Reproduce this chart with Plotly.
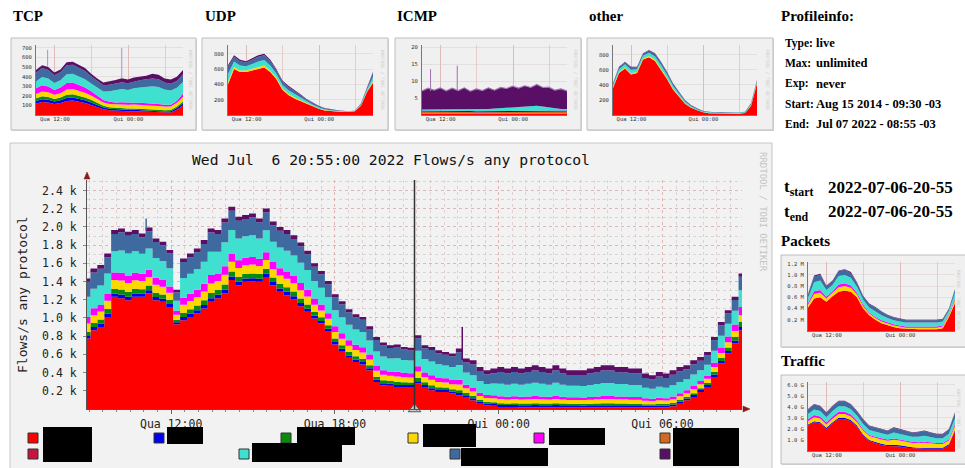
import plotly.graph_objects as go
import pandas as pd

W, H = 965, 468
def px(x): return x / W
def py(y): return 1 - y / H

START = "2022-07-06 08:55"
END = "2022-07-07 08:55"
CURSOR = "2022-07-06 20:55"

COLORS = dict(red="#ff0000", crimson="#c8143c", blue="#0000ee", green="#0a8a0a",
              yellow="#ffd700", magenta="#ff00ff", cyan="#40e0d0", steelblue="#3e6aa0",
              orange="#d2691e", purple="#5a0f66")

# ---------------- main chart data (flows/s, 96 samples) ----------------
main_red = [774,866,902,1012,1232,1218,1196,1232,1232,1269,
            1196,1177,1122,930,976,1012,1049,1104,1177,1218,
            1269,1416,1361,1397,1400,1397,1450,1360,1287,1251,
            1205,1130,1068,994,939,856,710,636,563,517,
            490,425,297,261,255,242,242,242,279,242,
            206,187,187,169,151,132,96,59,41,35,
            22,22,22,20,20,20,20,20,20,20,
            20,19,18,18,18,18,18,18,18,18,
            18,18,18,18,20,30,59,96,132,187,
            242,352,499,609,719,866]
main_blue = [36,35,34,36,38,40,38,37,35,36,34,33,31,
             22,
             34,35,36,38,40,37,41,40,38,37,
             37,35,38,35,36,36,35,35,34,30,29,27,
             27,27,26,26,26,24,24,23,22,23,22,21,
             26,22,23,22,21,21,24,20,21,20,20,21,
             22,21,22,22,22,23,22,22,23,22,
             21,21,21,22,23,24,24,23,23,22,
             22,19,18,20,19,20,21,20,22,22,
             23,27,28,29,31,36]
main_green = [37,45,48,50,52,55,54,52,50,52,48,47,44,
              28,
              48,50,51,53,57,53,58,56,54,52,
              53,50,53,50,51,51,50,50,47,42,40,38,
              38,38,37,36,36,33,34,32,30,32,30,29,
              37,30,31,30,28,28,32,25,25,20,18,18,
              19,18,19,18,19,20,19,18,20,18,
              17,17,17,18,19,20,20,19,19,18,
              18,16,15,17,16,17,18,18,20,20,
              22,30,34,38,44,55]
main_yellow = [92,85,88,90,95,98,96,94,90,92,88,85,80,
               55,
               88,90,93,97,105,97,107,105,96,94,
               97,90,97,91,92,93,92,91,87,79,75,71,
               72,71,69,68,68,63,64,60,57,60,56,55,
               70,58,60,58,55,55,62,50,50,45,42,44,
               46,44,46,44,46,48,46,44,48,44,
               42,42,42,44,46,48,48,46,46,44,
               44,38,36,40,38,41,42,40,44,42,
               44,52,55,58,63,74]
main_magenta = [73,75,72,80,82,85,84,82,78,82,76,74,70,
                45,
                76,78,80,85,92,84,94,92,84,82,
                84,78,85,78,80,80,79,78,75,68,64,61,
                61,61,59,58,58,53,54,51,49,51,48,47,
                58,48,50,48,46,46,52,40,40,35,32,33,
                31,30,31,30,31,33,31,30,33,30,
                29,29,29,30,31,32,32,31,31,30,
                30,26,25,28,26,30,32,32,36,36,
                38,48,55,62,72,91]
main_cyan = [220,215,212,220,235,245,240,236,222,232,216,210,200,
             110,
             216,222,228,240,258,239,264,258,240,236,
             239,222,242,224,228,228,226,224,215,194,184,176,
             176,176,171,168,167,155,158,151,143,150,141,138,
             171,148,152,148,142,142,162,135,140,128,122,130,
             138,132,138,132,139,145,139,132,145,132,
             126,127,127,133,139,145,145,139,139,133,
             133,116,110,121,115,124,126,120,124,118,
             116,130,135,140,150,184]
main_steelblue = [165,180,185,180,190,200,196,190,180,190,176,172,162,
                  90,
                  176,180,185,196,210,195,215,210,196,190,
                  196,180,196,180,184,185,181,180,174,157,149,142,
                  142,142,137,135,135,126,128,122,115,122,114,112,
                  137,120,126,120,116,116,140,110,118,110,106,113,
                  128,122,128,123,129,134,129,123,134,123,
                  118,118,119,124,129,135,135,129,129,124,
                  124,108,103,113,107,115,117,110,114,106,
                  102,115,115,115,118,146]
main_purple = [37,43,40,41,42,43,43,43,42,42,40,39,37,
               30,
               40,42,42,43,45,43,46,45,43,43,
               43,42,43,42,42,42,42,42,40,36,35,34,
               34,34,33,32,32,31,31,30,29,30,29,28,
               33,33,34,33,32,32,41,42,46,45,45,50,
               56,55,56,55,56,58,56,55,58,55,
               53,53,53,55,57,59,59,57,57,55,
               55,48,46,50,48,49,47,45,44,41,
               40,38,36,35,35,37]

main_spike_times = ["2022-07-06 11:05", "2022-07-06 22:40"]
main_spike_low = [1966, 536]
main_spike_high = [2094, 902]
main_spike_colors = ["steelblue", "purple"]

main_tick_times = ["2022-07-06 12:00", "2022-07-06 18:00", "2022-07-07 00:00", "2022-07-07 06:00"]
main_tick_labels = ["Qua 12:00", "Qua 18:00", "Qui 00:00", "Qui 06:00"]
main_y_ticks = [200, 400, 600, 800, 1000, 1200, 1400, 1600, 1800, 2000, 2200, 2400]
main_y_labels = ["0.2 k", "0.4 k", "0.6 k", "0.8 k", "1.0 k", "1.2 k", "1.4 k", "1.6 k",
                 "1.8 k", "2.0 k", "2.2 k", "2.4 k"]

# ---------------- thumbnails (hourly, 25 samples) ----------------
tcp_red = [120,135,130,115,125,145,150,140,125,105,80,60,50,45,45,40,40,38,35,30,25,22,25,55,100]
tcp_blue = [25,28,28,25,28,32,32,30,28,25,22,18,15,15,15,15,15,15,15,15,15,14,14,18,22]
tcp_green = [30,32,30,28,30,35,35,33,30,28,22,18,15,15,14,14,14,14,14,14,14,14,14,16,20]
tcp_yellow = [45,50,48,42,45,55,55,50,48,45,40,35,35,35,38,38,40,40,40,42,40,38,36,38,45]
tcp_magenta = [60,65,62,52,58,68,66,60,55,45,35,25,22,20,20,20,20,20,20,20,20,18,18,22,38]
tcp_cyan = [70,85,82,72,76,90,92,90,88,80,85,90,110,125,138,133,150,160,170,180,178,160,148,135,120]
tcp_steelblue = [90,95,90,80,85,95,95,92,86,75,70,65,68,70,72,72,72,75,78,80,80,72,70,70,80]
tcp_purple = [30,30,30,28,28,30,30,30,30,27,26,29,35,40,42,38,39,38,38,49,48,42,45,46,45]
tcp_spike_times = ["2022-07-06 10:49", "2022-07-06 22:55"]
tcp_spike_low = [500, 380]
tcp_spike_high = [680, 700]

udp_red = [400,600,560,560,580,600,620,560,470,330,260,215,180,150,110,80,60,50,45,40,40,50,120,300,420]
udp_yellow = [35,25,22,20,22,25,25,22,18,16,16,15,12,8,7,5,4,3,3,2,1,1,4,8,20]
udp_cyan = [100,72,64,56,64,72,72,64,52,48,48,46,36,24,20,16,12,10,8,6,4,4,12,24,56]
udp_steelblue = [90,63,56,49,56,63,63,56,46,42,42,40,32,21,18,14,11,9,7,5,4,4,11,21,49]
udp_purple = [25,20,18,15,18,20,20,18,14,14,14,14,10,7,5,5,3,3,2,2,1,1,3,7,15]

icmp_red = [0.4,0.4,0.5,0.4,0.4,0.5,0.4,0.4,0.4,0.3,0.3,0.3,0.3,0.3,0.3,0.3,0.3,0.3,0.3,0.3,0.3,0.3,0.3,0.4,0.4]
icmp_orange = [0.6,0.6,0.6,0.6,0.6,0.6,0.6,0.6,0.5,0.5,0.5,0.5,0.5,0.5,0.5,0.5,0.5,0.5,0.5,0.5,0.5,0.5,0.5,0.5,0.6]
icmp_blue = [0.3,0.3,0.3,0.3,0.3,0.3,0.3,0.3,0.3,0.3,0.3,0.3,0.3,0.3,0.3,0.3,0.3,0.3,0.3,0.3,0.3,0.3,0.3,0.3,0.3]
icmp_cyan = [0.3,0.3,0.3,0.3,0.3,0.3,0.3,0.4,0.4,0.5,0.6,0.7,0.8,0.9,1.0,1.1,1.2,1.3,1.5,1.6,1.4,1.1,0.8,0.6,0.5]
icmp_purple = [5.5,6.3,5.6,6.4,5.5,6.2,5.6,6.3,5.4,6.1,5.5,6.2,5.4,6.1,5.7,6.3,5.6,6.2,5.5,6.3,5.6,6.0,5.4,5.9,5.3]
icmp_spike_times = ["2022-07-06 10:20", "2022-07-06 14:45"]
icmp_spike_low = [7.0, 7.2]
icmp_spike_high = [13.5, 14.5]

oth_red = [360,560,620,540,560,740,770,720,600,480,340,240,150,95,60,35,22,18,15,15,15,18,25,120,420]
oth_yellow = [9,12,14,16,12,12,15,15,16,15,12,11,8,6,4,3,3,3,3,3,3,3,3,5,7]
oth_cyan = [28,38,41,47,38,37,44,46,50,44,37,32,22,17,13,10,9,9,10,10,10,9,8,16,21]
oth_steelblue = [20,27,29,33,27,26,31,33,36,31,26,23,16,12,9,7,6,6,7,7,7,6,6,12,15]
oth_purple = [5,7,7,8,7,7,7,8,9,8,7,5,4,3,3,3,2,2,2,2,2,2,2,3,4]

pk_red = [0.42,0.58,0.60,0.52,0.62,0.70,0.72,0.70,0.60,0.40,0.28,0.20,0.14,0.10,0.07,0.05,0.04,0.03,0.03,0.03,0.03,0.03,0.05,0.25,0.50]
pk_yellow = [.05,.08,.08,.06,.06,.08,.08,.07,.05,.04,.03,.03,.03,.03,.03,.03,.02,.03,.03,.03,.03,.03,.03,.03,.05]
pk_magenta = [.03,.05,.05,.03,.03,.05,.05,.04,.03,.03,.02,.02,.02,.02,.02,.02,.02,.02,.02,.02,.02,.02,.02,.02,.03]
pk_cyan = [.09,.16,.17,.12,.11,.15,.15,.14,.11,.09,.09,.10,.09,.08,.07,.07,.07,.07,.07,.07,.07,.07,.07,.06,.10]
pk_steelblue = [.06,.10,.10,.07,.07,.09,.09,.08,.07,.06,.06,.06,.06,.05,.05,.04,.04,.04,.04,.04,.04,.04,.04,.03,.06]
pk_purple = [.01,.02,.02,.01,.01,.01,.01,.02,.01,.01,.01,.02,.01,.01,.01,.01,.01,.01,.01,.01,.01,.01,.01,.01,.01]

tr_red = [2.3,2.6,2.5,2.0,2.5,2.9,2.9,2.7,2.2,1.4,0.9,0.7,0.55,0.45,0.45,0.4,0.3,0.25,0.2,0.2,0.2,0.2,0.2,0.5,1.8]
tr_blue = [.10,.10,.10,.10,.10,.10,.10,.10,.10,.10,.10,.10,.10,.10,.12,.12,.12,.10,.10,.12,.12,.10,.10,.10,.12]
tr_yellow = [.30,.35,.33,.30,.32,.35,.35,.32,.30,.35,.35,.38,.40,.38,.45,.42,.40,.38,.40,.42,.38,.33,.33,.35,.35]
tr_magenta = [.18,.20,.20,.18,.20,.20,.20,.18,.15,.12,.10,.10,.10,.10,.12,.10,.10,.10,.10,.10,.10,.10,.10,.12,.18]
tr_cyan = [.47,.50,.49,.47,.50,.50,.50,.48,.45,.48,.45,.45,.45,.44,.53,.50,.48,.45,.50,.53,.47,.42,.42,.48,.52]
tr_steelblue = [.40,.45,.43,.40,.43,.45,.45,.42,.40,.40,.35,.37,.35,.33,.42,.40,.40,.37,.40,.42,.38,.35,.35,.40,.45]
tr_purple = [.05,.05,.05,.05,.05,.05,.05,.05,.05,.05,.05,.05,.05,.05,.06,.06,.05,.05,.05,.06,.05,.05,.05,.05,.08]

thumb_tick_times = ["2022-07-06 12:00", "2022-07-07 00:00"]
thumb_tick_labels = ["Qua 12:00", "Qui 00:00"]

profile_labels = ["Type:", "Max:", "Exp:", "Start:", "End:"]
profile_values = ["live", "unlimited", "never", "Aug 15 2014 - 09:30 -03", "Jul 07 2022 - 08:55 -03"]
t_start_text = "2022-07-06-20-55"
t_end_text = "2022-07-06-20-55"

MONO = "DejaVu Sans Mono"
SERIF = "Liberation Serif, Times New Roman, serif"

main_times = pd.date_range(START, END, periods=len(main_red))
thumb_times = pd.date_range(START, END, periods=len(tcp_red))

fig = go.Figure()

def add_stack(times, series, group, xa, ya, shape, top_line=None):
    for k, (cname, vals) in enumerate(series):
        is_top = top_line is not None and k == len(series) - 1
        fig.add_trace(go.Scatter(x=times, y=vals, stackgroup=group, mode="lines",
                                 line=dict(width=1.2 if is_top else 0, shape=shape,
                                           color=top_line if is_top else COLORS[cname]),
                                 fillcolor=COLORS[cname], xaxis=xa, yaxis=ya,
                                 hoverinfo="skip", showlegend=False))

def add_spikes(times, lows, highs, color, xa, ya, width):
    xs, ys = [], []
    for t, lo, hi in zip(times, lows, highs):
        xs += [t, t, None]
        ys += [lo, hi, None]
    fig.add_trace(go.Scatter(x=xs, y=ys, mode="lines", line=dict(color=color, width=width),
                             xaxis=xa, yaxis=ya, hoverinfo="skip", showlegend=False))

add_stack(main_times, [("red", main_red), ("blue", main_blue), ("green", main_green),
                       ("yellow", main_yellow), ("magenta", main_magenta), ("cyan", main_cyan),
                       ("steelblue", main_steelblue), ("purple", main_purple)],
          "main", "x", "y", "hvh")
for t, lo, hi, c in zip(main_spike_times, main_spike_low, main_spike_high, main_spike_colors):
    add_spikes([t], [lo], [hi], COLORS[c], "x", "y", 1.5)

# cursor marker at the bottom of the main chart
fig.add_trace(go.Scatter(x=[CURSOR], y=[0], mode="markers", cliponaxis=False,
                         marker=dict(symbol="triangle-up", size=11, color="#cfcfcf",
                                     line=dict(color="#555", width=1)),
                         xaxis="x", yaxis="y", hoverinfo="skip", showlegend=False))

add_stack(thumb_times, [("red", tcp_red), ("blue", tcp_blue), ("green", tcp_green),
                        ("yellow", tcp_yellow), ("magenta", tcp_magenta), ("cyan", tcp_cyan),
                        ("steelblue", tcp_steelblue), ("purple", tcp_purple)],
          "tcp", "x2", "y2", "linear")
add_spikes(tcp_spike_times, tcp_spike_low, tcp_spike_high, "#b48cc8", "x2", "y2", 1)
add_stack(thumb_times, [("red", udp_red), ("yellow", udp_yellow), ("cyan", udp_cyan),
                        ("steelblue", udp_steelblue), ("purple", udp_purple)],
          "udp", "x3", "y3", "linear")
add_stack(thumb_times, [("red", icmp_red), ("orange", icmp_orange), ("blue", icmp_blue),
                        ("cyan", icmp_cyan), ("purple", icmp_purple)],
          "icmp", "x4", "y4", "linear", top_line="#a27ab4")
add_spikes(icmp_spike_times, icmp_spike_low, icmp_spike_high, "#a070b0", "x4", "y4", 1)
add_stack(thumb_times, [("red", oth_red), ("yellow", oth_yellow), ("cyan", oth_cyan),
                        ("steelblue", oth_steelblue), ("purple", oth_purple)],
          "oth", "x5", "y5", "linear")
add_stack(thumb_times, [("red", pk_red), ("yellow", pk_yellow), ("magenta", pk_magenta),
                        ("cyan", pk_cyan), ("steelblue", pk_steelblue), ("purple", pk_purple)],
          "pk", "x6", "y6", "linear")
add_stack(thumb_times, [("red", tr_red), ("blue", tr_blue), ("yellow", tr_yellow),
                        ("magenta", tr_magenta), ("cyan", tr_cyan), ("steelblue", tr_steelblue),
                        ("purple", tr_purple)],
          "tr", "x7", "y7", "linear")

GRID_MAJOR = "rgba(220,150,150,0.45)"
GRID_MINOR = "rgba(200,170,170,0.45)"

layout = dict(
    width=W, height=H, margin=dict(l=0, r=0, t=0, b=0),
    paper_bgcolor="white", plot_bgcolor="white", hovermode=False, showlegend=False,
    xaxis=dict(domain=[px(87), px(742)], range=[START, END], type="date", anchor="y",
               tickmode="array", tickvals=main_tick_times, ticktext=main_tick_labels,
               tickfont=dict(family=MONO, size=11.5, color="#222"),
               showgrid=True, gridcolor=GRID_MAJOR, griddash="dot", gridwidth=1,
               minor=dict(dtick=1800000, tick0="2022-07-06 00:00", showgrid=True,
                          gridcolor=GRID_MINOR, griddash="dot", ticks="outside",
                          ticklen=2, tickcolor="#888"),
               ticks="outside", ticklen=4, tickcolor="#666",
               showline=True, linecolor="#555", linewidth=1, zeroline=False, fixedrange=True),
    yaxis=dict(domain=[py(409), py(180)], range=[0, 2516], anchor="x",
               tickmode="array", tickvals=main_y_ticks, ticktext=main_y_labels,
               tickfont=dict(family=MONO, size=11.5, color="#222"),
               showgrid=True, gridcolor=GRID_MAJOR, griddash="dot", gridwidth=1,
               minor=dict(dtick=100, showgrid=True, gridcolor=GRID_MINOR, griddash="dot"),
               ticks="outside", ticklen=3, tickcolor="#888", ticklabelstandoff=4,
               showline=True, linecolor="#555", linewidth=1, zeroline=False, fixedrange=True),
)

thumbs = [
    (2, (36, 183), (115, 45), 730, [100, 200, 300, 400, 500, 600, 700],
     ["100", "200", "300", "400", "500", "600", "700"]),
    (3, (228, 373), (115, 45), 913, [200, 400, 600, 800], ["200", "400", "600", "800"]),
    (4, (422, 567), (115, 45), 20.6, [5, 10, 15, 20], ["5", "10", "15", "20"]),
    (5, (613, 757), (115, 45), 933, [200, 400, 600, 800], ["200", "400", "600", "800"]),
    (6, (808, 955), (331, 262), 1.23, [0.2, 0.4, 0.6, 0.8, 1.0, 1.2],
     ["0.2 M", "0.4 M", "0.6 M", "0.8 M", "1.0 M", "1.2 M"]),
    (7, (808, 955), (451, 382), 6.24, [1, 2, 3, 4, 5, 6],
     ["1.0 G", "2.0 G", "3.0 G", "4.0 G", "5.0 G", "6.0 G"]),
]
for n, (x0, x1), (yb, yt), ymax, tv, tt in thumbs:
    layout[f"xaxis{n}"] = dict(domain=[px(x0), px(x1)], range=[START, END], type="date",
                               anchor=f"y{n}", tickmode="array", tickvals=thumb_tick_times,
                               ticktext=thumb_tick_labels,
                               tickfont=dict(family=MONO, size=5.5, color="#333"),
                               showgrid=True, gridcolor="rgba(215,170,170,0.5)", gridwidth=1,
                               minor=dict(dtick=21600000, tick0="2022-07-06 00:00",
                                          showgrid=True, gridcolor="rgba(215,170,170,0.5)"),
                               ticks="", showline=True, linecolor="#777", zeroline=False,
                               fixedrange=True, ticklabelstandoff=-2)
    layout[f"yaxis{n}"] = dict(domain=[py(yb), py(yt)], range=[0, ymax], anchor=f"x{n}",
                               tickmode="array", tickvals=tv, ticktext=tt,
                               tickfont=dict(family=MONO, size=5.5, color="#333"),
                               showgrid=True, gridcolor="rgba(215,200,200,0.45)", gridwidth=1,
                               ticks="", showline=True, linecolor="#777", zeroline=False,
                               fixedrange=True, ticklabelstandoff=2)

shapes = []
def rect(x0, y0, x1, y1, fill, line=None, lw=1, layer="below"):
    shapes.append(dict(type="rect", xref="paper", yref="paper", x0=px(x0), x1=px(x1),
                       y0=py(y1), y1=py(y0), fillcolor=fill, layer=layer,
                       line=dict(color=line or fill, width=lw if line else 0)))

# panel frames
rect(10, 143, 772, 475, "#f2f2f2", "#c6c6c6")
for bx0, by0, bx1, by1 in [(11, 38, 196, 130), (202, 38, 388, 130), (395, 38, 581, 130),
                           (587, 38, 773, 130), (781, 255, 968, 347), (781, 375, 968, 464)]:
    rect(bx0 + 1, by0 + 1, bx1 + 1, by1 + 1, "#d8d8d8")
    rect(bx0, by0, bx1, by1, "#f0f0f0", "#bdbdbd")

# axis arrows (main)
def tri(points, color):
    p = "M " + " L ".join(f"{px(a)},{py(b)}" for a, b in points) + " Z"
    shapes.append(dict(type="path", xref="paper", yref="paper", path=p,
                       fillcolor=color, line=dict(color=color, width=0.5), layer="above"))
tri([(84, 179), (90, 179), (87, 172)], "#8b1a1a")
tri([(743, 406), (743, 412), (750, 409)], "#8b1a1a")

# cursor line
shapes.append(dict(type="line", xref="x", yref="paper", x0=CURSOR, x1=CURSOR,
                   y0=py(409), y1=py(180), line=dict(color="#333", width=1.5), layer="above"))

# legend swatches and redaction boxes
legend_items = [("red", 28, 433), ("crimson", 28, 449), ("blue", 154, 433), ("green", 281, 433),
                ("cyan", 239, 449), ("yellow", 408, 433), ("steelblue", 450, 449),
                ("magenta", 534, 433), ("orange", 660, 433), ("purple", 660, 449)]
for cname, lx, ly in legend_items:
    rect(lx, ly, lx + 10, ly + 10, COLORS[cname], "#333", 1, "above")
for bx0, by0, bx1, by1 in [(43, 427, 92, 462), (167, 427, 203, 444), (297, 427, 355, 445),
                           (252, 443, 342, 462), (423, 424, 476, 447), (461, 448, 548, 466),
                           (549, 428, 605, 445), (673, 428, 739, 466)]:
    rect(bx0, by0, bx1, by1, "#000000", None, 0, "above")

layout["shapes"] = shapes

ann = []
def txt(x, y, s, size, family, color="#000", xanchor="left", angle=0):
    ann.append(dict(x=px(x), y=py(y), xref="paper", yref="paper", text=s, showarrow=False,
                    xanchor=xanchor, yanchor="middle", textangle=angle,
                    font=dict(family=family, size=size, color=color)))

txt(391, 159, "Wed Jul\u00a0\u00a06 20:55:00 2022 Flows/s any protocol", 14.7, MONO, "#111", "center")
txt(22, 295, "Flows/s any protocol", 13, MONO, "#222", "center", -90)
txt(763, 212, "RRDTOOL / TOBI OETIKER", 9, MONO, "#c4c4c4", "center", 90)
for bx in [191, 383, 576, 768]:
    txt(bx, 80, "RRDTOOL / TOBI OETIKER", 4.5, MONO, "#cfcfcf", "center", 90)
for by in [300, 419]:
    txt(959, by, "RRDTOOL / TOBI OETIKER", 4.5, MONO, "#cfcfcf", "center", 90)

for tx, label in [(11, "TCP"), (203, "UDP"), (395, "ICMP"), (587, "other")]:
    txt(tx, 16, f"<b>{label}</b>", 15, SERIF)
txt(779, 16, "<b>Profileinfo:</b>", 15, SERIF)
for i, (lab, val) in enumerate(zip(profile_labels, profile_values)):
    yy = [43, 63, 83.5, 104, 124.5][i]
    txt(783, yy, f"<b>{lab}</b>", 11.5, SERIF)
    txt(814, yy, f"<b>{val}</b>", 12.5, SERIF)
txt(782, 188, "<b>t<sub>start</sub></b>", 17, SERIF)
txt(826, 187, f"<b>{t_start_text}</b>", 17, SERIF)
txt(782, 213, "<b>t<sub>end</sub></b>", 17, SERIF)
txt(826, 212, f"<b>{t_end_text}</b>", 17, SERIF)
txt(779, 241, "<b>Packets</b>", 15, SERIF)
txt(779, 361, "<b>Traffic</b>", 15, SERIF)

layout["annotations"] = ann
fig.update_layout(**layout)
fig.write_html("out.html", config={"displayModeBar": False, "staticPlot": True},
               post_script="document.body.style.margin='0px';document.body.style.overflow='hidden';")
